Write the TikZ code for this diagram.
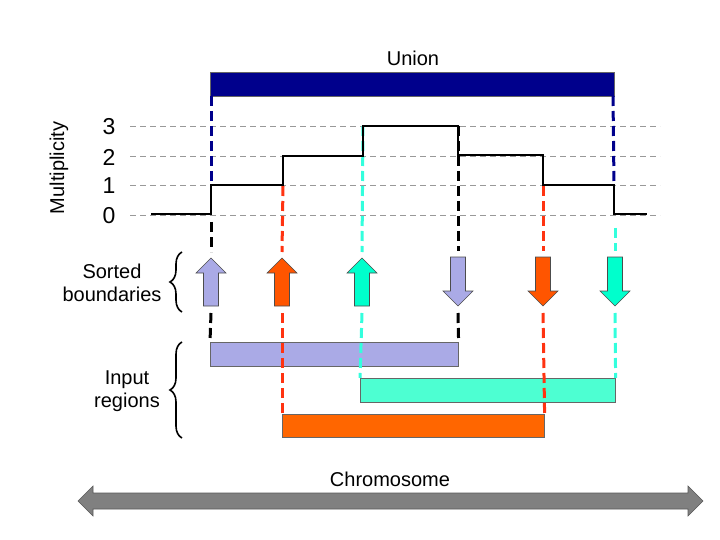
\documentclass[tikz,border=0pt]{standalone}
\usepackage{fontspec}
\setmainfont{Liberation Sans}
\usepackage{tikz}
\usetikzlibrary{decorations.pathreplacing}
\definecolor{UnionBlue}{RGB}{0,0,140}
\definecolor{Lav}{RGB}{170,170,230}
\definecolor{OrArrow}{RGB}{255,85,0}
\definecolor{OrBar}{RGB}{255,102,0}
\definecolor{CyArrow}{RGB}{0,255,204}
\definecolor{CyBar}{RGB}{77,255,210}
\definecolor{RedDash}{RGB}{255,51,17}
\definecolor{CyDash}{RGB}{51,255,221}
\tikzset{
  lbl/.style={font=\fontsize{20}{23}\selectfont,align=center},
  digit/.style={font=\fontsize{23}{23}\selectfont},
  gridline/.style={gray!80,line width=1pt,dash pattern=on 6pt off 4pt},
  bound/.style={line width=3pt,dash pattern=on 10pt off 5pt},
  blockarrow/.style={draw=black!70,line width=0.6pt},
  regionbar/.style={draw=black!60,line width=0.6pt,inner sep=0pt},
  curly/.style={decorate,decoration={brace,amplitude=12pt},line width=1.6pt},
}
\newcommand{\UpArrow}[3]{% name x colour
\draw[blockarrow,fill=#3] (#2-7.5,306) -- (#2-7.5,273) -- (#2-15,273) -- (#2,258)
  -- (#2+15,273) -- (#2+7.5,273) -- (#2+7.5,306) -- cycle;
\coordinate (#1top) at (#2,252);
\coordinate (#1bot) at (#2,313);
}
\newcommand{\DownArrow}[3]{% name x colour
\draw[blockarrow,fill=#3] (#2-7.5,257) -- (#2-7.5,291) -- (#2-15,291) -- (#2,306)
  -- (#2+15,291) -- (#2+7.5,291) -- (#2+7.5,257) -- cycle;
\coordinate (#1top) at (#2,251);
\coordinate (#1bot) at (#2,313);
}

\begin{document}
\begin{tikzpicture}[x=1pt,y=-1pt]
\useasboundingbox (0,0) rectangle (720,540);
% multiplicity axis
\foreach \lev/\yy in {0/216,1/186,2/157,3/127}{
  \draw[gridline] (130,\yy) -- (660,\yy);
  \node[digit] (lev\lev) at (109,\yy) {\lev};
}
\node[lbl,rotate=90] (mult) at (59,168) {Multiplicity};
% union
\node[lbl] (uniontxt) at (413,58) {Union};
\draw[draw=black!60,fill=UnionBlue] (210,72) rectangle (614,96);
\coordinate (ua) at (211,96);
\coordinate (ub) at (613,96);
% input regions
\node[regionbar,fill=Lav,minimum width=248pt,minimum height=24pt,anchor=north west] (regA) at (210,342) {};
\node[regionbar,fill=CyBar,minimum width=255pt,minimum height=24pt,anchor=north west] (regC) at (360,378) {};
\node[regionbar,fill=OrBar,minimum width=262pt,minimum height=23pt,anchor=north west] (regB) at (282,414) {};
% step curve points
\coordinate (s1) at (211,185);
\coordinate (s2) at (283,156);
\coordinate (s3) at (363,126);
\coordinate (s4) at (458,126);
\coordinate (s5) at (543,155);
\coordinate (s6) at (614,185);
% sorted boundaries
\UpArrow{aL}{211}{Lav}
\UpArrow{bL}{282}{OrArrow}
\UpArrow{cL}{362}{CyArrow}
\DownArrow{aR}{458}{Lav}
\DownArrow{bR}{543}{OrArrow}
\DownArrow{cR}{615}{CyArrow}
% boundary lines
\draw[bound,UnionBlue] (ua) -- (s1);
\draw[bound,UnionBlue] (ub) -- (s6);
\draw[bound,black] (211,222) -- (aLtop);
\draw[bound,black] (aLbot) -- (regA.north west);
\draw[bound,RedDash] (s2 |- 0,186) -- (bLtop);
\draw[bound,RedDash] (bLbot) -- (regB.north west);
\draw[bound,CyDash] (s3) -- (cLtop);
\draw[bound,CyDash] (cLbot) -- (regC.north west);
\draw[bound,black] (s4) -- (aRtop);
\draw[bound,black] (aRbot) -- (regA.north east);
\draw[bound,RedDash] (s5 |- 0,186) -- (bRtop);
\draw[bound,RedDash] (bRbot) -- (regB.north east);
\draw[bound,CyDash] (615,228) -- (cRtop);
\draw[bound,CyDash] (cRbot) -- (regC.north east);
% multiplicity
\draw[line width=2.7pt,line join=miter] (151,214) -| (s1) -| (s2) -| (s3) -- (s4)
  |- (s5) |- (s6) |- (647,214);
% braces and labels
\draw[curly] (182,312) -- (182,252);
\node[lbl] (sorted) at (112,283) {Sorted\\boundaries};
\draw[curly] (182,438) -- (182,342);
\node[lbl] (input) at (127,391) {Input\\regions};
% chromosome
\draw[draw=black!65,fill=black!50,line width=0.6pt] (78,501) -- (93,486) -- (93,493)
  -- (688,493) -- (688,486) -- (703,501) -- (688,516) -- (688,509) -- (93,509)
  -- (93,516) -- cycle;
\node[lbl] (chrom) at (390,479) {Chromosome};
\end{tikzpicture}
\end{document}
